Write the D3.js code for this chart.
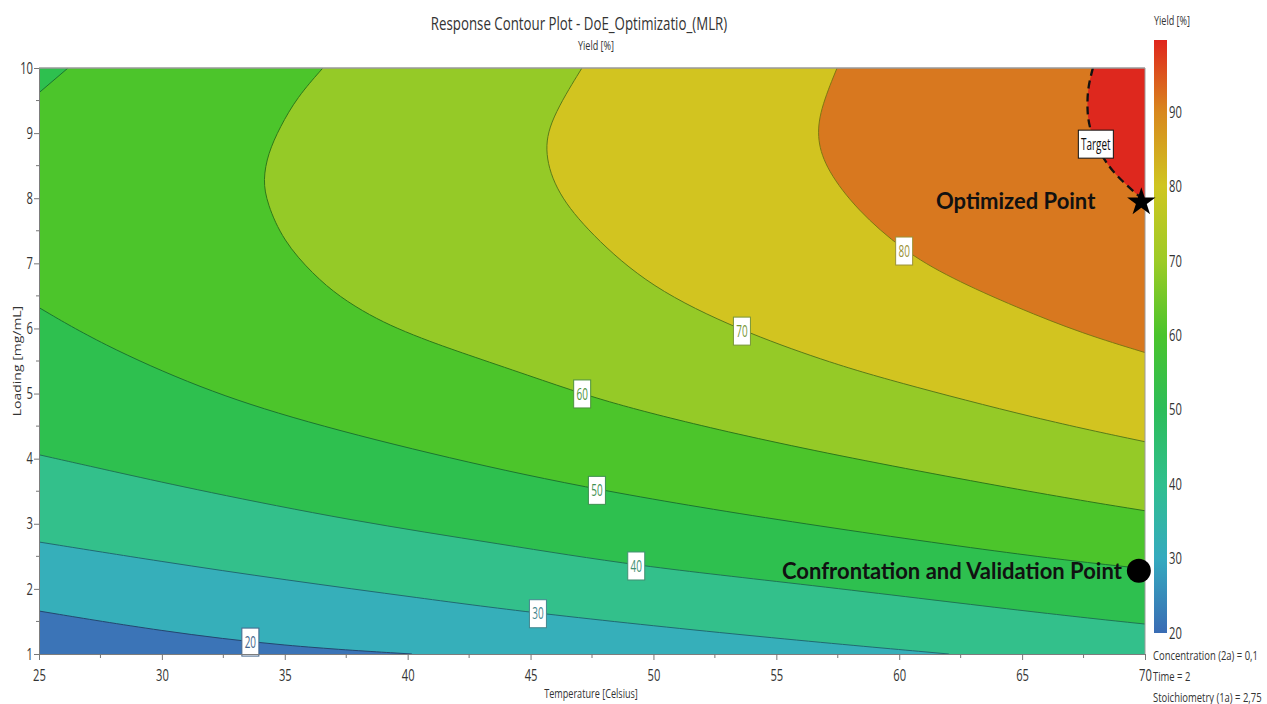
<!DOCTYPE html>
<html>
<head>
<meta charset="utf-8">
<script src="https://cdn.jsdelivr.net/npm/d3@7"></script>
<style>
  html, body { margin: 0; padding: 0; background: #fff; }
  svg { display: block; font-family: "Open Sans", "Noto Sans", sans-serif; }
</style>
</head>
<body>
<svg id="chart" width="1267" height="704"></svg>
<script>
// ---- Factor ranges and ticks ----
const temperatureDomain = [25, 70];          // Temperature [Celsius]
const loadingDomain = [1, 10];               // Loading [mg/mL]
const temperatureTicks = [25, 30, 35, 40, 45, 50, 55, 60, 65, 70];
const loadingTicks = [1, 2, 3, 4, 5, 6, 7, 8, 9, 10];
const yieldRange = [20, 99.7];               // colour bar extent, Yield [%]
const yieldTicks = [20, 30, 40, 50, 60, 70, 80, 90];

// ---- Yield isolines: [Temperature, Loading] pairs along each contour ----
const levels = [20, 30, 40, 50, 60, 70, 80, 90];
const contour20 = [[25, 1.66], [29.96, 1.35], [34.97, 1.12], [40.17, 1.0]];
const contour30 = [[25, 2.72], [29.96, 2.42], [34.97, 2.14], [40.5, 1.86], [45.26, 1.62], [54.62, 1.25], [62.02, 1.0]];
const contour40 = [[25, 4.06], [28.3, 3.78], [31.55, 3.51], [37.65, 3.05], [43.76, 2.69], [49.33, 2.35], [55.96, 2.08], [65.72, 1.63], [70, 1.46]];
const contour50 = [[25, 6.32], [27.48, 5.77], [31.55, 5.08], [35.62, 4.58], [41.72, 4.0], [47.74, 3.51], [55.96, 3.0], [65.72, 2.48], [70, 2.31]];
const contour50corner = [[25, 9.62], [26.18, 10]];
const contour60 = [[36.55, 10], [35.5, 9.55], [34.8, 9.09], [34.32, 8.69], [34.11, 8.28], [34.28, 7.92], [34.93, 7.35], [36.15, 6.83], [37.25, 6.48], [38.47, 6.2], [39.56, 6.0], [40.9, 5.8], [42.25, 5.62], [44.98, 5.27], [47.13, 4.99], [49.86, 4.69], [55.96, 4.15], [65.72, 3.46], [70, 3.2]];
const contour70 = [[47.09, 10], [45.79, 9.2], [45.55, 8.69], [46.07, 8.08], [47.42, 7.46], [49.86, 6.63], [53.52, 5.97], [56.9, 5.51], [59.62, 5.2], [65.72, 4.6], [70, 4.26]];
const contour80 = [[57.47, 10], [56.77, 9.35], [56.65, 8.89], [57.06, 8.43], [58.28, 7.82], [60.15, 7.2], [62.06, 6.78], [64.79, 6.32], [67.47, 5.92], [70, 5.63]];
const contour90 = [[67.88, 10], [67.68, 9.71], [67.64, 9.4], [67.72, 9.05], [68.37, 8.54], [69.1, 8.25], [69.79, 8.02], [70, 7.95]];
const contourLines = [[contour20], [contour30], [contour40], [contour50, contour50corner], [contour60], [contour70], [contour80], [contour90]];

// Contour labels and the temperature at which each sits on its line
const labelText = ["20", "30", "40", "50", "60", "70", "80", "Target"];
const labelTemperature = [33.6, 45.3, 49.3, 47.7, 47.1, 53.6, 60.2, 68.0];

// Marked settings [Temperature, Loading]
const optimizedPoint = [69.85, 7.94];
const validationPoint = [69.75, 2.28];
const factorSettings = ["Concentration (2a) = 0,1", "Time = 2", "Stoichiometry (1a) = 2,75"];

// ---- Palette ----
const bandColors = ["#3b74b7", "#36afba", "#33c08b", "#2ec04f", "#4cc52b", "#95ca27", "#d2c420", "#d8781f", "#de281e"];
const colorbarStopValues = [20, 30, 40, 50, 60, 70, 80, 90, 99.7];
const colorbarStopColors = ["#3a6cb4", "#35aabf", "#30bf8e", "#2dbd59", "#4ac42c", "#9dcb27", "#cfc621", "#d8881e", "#e0251d"];

// ---- Layout ----
const plot = { left: 39, right: 1145, top: 68, bottom: 654 };
const x = d3.scaleLinear(temperatureDomain, [plot.left, plot.right]);
const y = d3.scaleLinear(loadingDomain, [plot.bottom, plot.top]);
const cb = d3.scaleLinear(yieldRange, [633, 40]);

const svg = d3.select("#chart");
const defs = svg.append("defs");
defs.append("clipPath").attr("id", "plotClip").append("rect")
  .attr("x", plot.left).attr("y", plot.top)
  .attr("width", plot.right - plot.left).attr("height", plot.bottom - plot.top);

const line = d3.line().x(d => x(d[0])).y(d => y(d[1])).curve(d3.curveBasis);

// Close an isoline along the plot border on the side holding the top-right corner (higher yield)
const pw = plot.right - plot.left, ph = plot.bottom - plot.top, P = 2 * pw + 2 * ph;
const mod = v => ((v % P) + P) % P;
function perim([px, py]) {
  const e = 0.5;
  if (Math.abs(py - plot.top) < e) return px - plot.left;
  if (Math.abs(px - plot.right) < e) return pw + (py - plot.top);
  if (Math.abs(py - plot.bottom) < e) return pw + ph + (plot.right - px);
  return 2 * pw + ph + (plot.bottom - py);
}
const corners = [
  { p: 0, pt: [plot.left, plot.top] },
  { p: pw, pt: [plot.right, plot.top] },
  { p: pw + ph, pt: [plot.right, plot.bottom] },
  { p: 2 * pw + ph, pt: [plot.left, plot.bottom] }
];
function highSidePath(piece) {
  const pts = piece.map(d => [x(d[0]), y(d[1])]);
  const pS = perim(pts[0]), pE = perim(pts[pts.length - 1]);
  const cwSpan = mod(pS - pE);
  let list;
  if (mod(pw - pE) < cwSpan) {
    list = corners.map(c => ({ d: mod(c.p - pE), pt: c.pt })).filter(c => c.d > 0 && c.d < cwSpan);
  } else {
    const ccwSpan = mod(pE - pS);
    list = corners.map(c => ({ d: mod(pE - c.p), pt: c.pt })).filter(c => c.d > 0 && c.d < ccwSpan);
  }
  list.sort((a, b) => a.d - b.d);
  return line(piece) + list.map(c => `L${c.pt[0]},${c.pt[1]}`).join("") + "Z";
}

// ---- Filled bands ----
const fillG = svg.append("g").attr("clip-path", "url(#plotClip)");
fillG.append("rect")
  .attr("x", plot.left).attr("y", plot.top)
  .attr("width", pw).attr("height", ph)
  .attr("fill", bandColors[0]);
levels.forEach((lv, i) => {
  const pieces = contourLines[i];
  let g = fillG;
  pieces.slice(1).forEach((pc, k) => {
    const id = `above-${lv}-${k}`;
    defs.append("clipPath").attr("id", id).append("path").attr("d", highSidePath(pc));
    g = g.append("g").attr("clip-path", `url(#${id})`);
  });
  g.append("path").attr("d", highSidePath(pieces[0])).attr("fill", bandColors[i + 1]);
});

// ---- Isolines ----
const lineColor = i => d3.color(bandColors[i]).darker(1.4).formatHex();
const lineG = svg.append("g").attr("clip-path", "url(#plotClip)");
levels.forEach((lv, i) => {
  const isTarget = i === levels.length - 1;
  contourLines[i].forEach(pc => {
    lineG.append("path")
      .attr("d", line(pc))
      .attr("fill", "none")
      .attr("stroke", isTarget ? "#111" : lineColor(i))
      .attr("stroke-width", isTarget ? 2.3 : 1)
      .attr("stroke-dasharray", isTarget ? "8,5" : null);
  });
});

// ---- Helper for horizontally condensed text ----
function addText(parent, o) {
  const t = parent.append("text")
    .attr("transform", `translate(${o.x},${o.y})${o.rotate ? ` rotate(${o.rotate})` : ""} scale(${o.sx || 1},${o.sy || 1})`)
    .attr("text-anchor", o.anchor || "start")
    .attr("font-size", o.size)
    .attr("fill", o.fill || "#333")
    .text(o.text);
  if (o.dy) t.attr("dy", o.dy);
  if (o.weight) t.attr("font-weight", o.weight);
  if (o.family) t.attr("font-family", o.family);
  return t;
}

// ---- Contour labels ----
function loadingAt(piece, T) {
  let best = null;
  for (let k = 0; k < piece.length - 1; k++) {
    const a = piece[k], b = piece[k + 1];
    if ((a[0] - T) * (b[0] - T) <= 0 && a[0] !== b[0]) {
      const L = a[1] + (T - a[0]) / (b[0] - a[0]) * (b[1] - a[1]);
      if (best === null || L < best) best = L;
    }
  }
  return best;
}
const labelColor = i => d3.interpolateRgb(d3.color(bandColors[i]).darker(0.6).formatHex(), "#777")(0.3);
const labelG = svg.append("g");
levels.forEach((lv, i) => {
  const T = labelTemperature[i];
  const L = loadingAt(contourLines[i][0], T);
  const cx = x(T), cy = y(L);
  const isTarget = i === levels.length - 1;
  const w = isTarget ? 35 : 17, h = 28;
  labelG.append("rect")
    .attr("x", cx - w / 2).attr("y", cy - h / 2)
    .attr("width", w).attr("height", h)
    .attr("fill", "#fff")
    .attr("stroke", isTarget ? "#111" : labelColor(i))
    .attr("stroke-width", 1);
  addText(labelG, {
    x: cx, y: cy, dy: "0.36em", text: labelText[i], anchor: "middle",
    size: 16, sx: 0.62, fill: isTarget ? "#111" : labelColor(i)
  });
});

// ---- Axes ----
const axisFont = 16, squeeze = 0.7;
function condenseAxisText(g) {
  g.selectAll("text").each(function () {
    const t = d3.select(this);
    const tx = +t.attr("x") || 0, ty = +t.attr("y") || 0;
    t.attr("x", null).attr("y", null)
      .attr("transform", `translate(${tx},${ty}) scale(${squeeze},1)`);
  });
}
const yAxisG = svg.append("g")
  .attr("transform", `translate(${plot.left},0)`)
  .call(d3.axisLeft(y).tickValues(loadingTicks).tickFormat(d3.format("d")).tickSize(5).tickSizeOuter(0).tickPadding(1));
const xAxisG = svg.append("g")
  .attr("transform", `translate(0,${plot.bottom})`)
  .call(d3.axisBottom(x).tickValues(temperatureTicks).tickFormat(d3.format("d")).tickSize(6).tickSizeOuter(0).tickPadding(10));
[yAxisG, xAxisG].forEach(g => {
  g.attr("font-size", axisFont).attr("font-family", "\"Open Sans\", sans-serif");
  g.select(".domain").attr("stroke", "#7d7d7d");
  g.selectAll(".tick line").attr("stroke", "#777");
  g.selectAll(".tick text").attr("fill", "#333");
  condenseAxisText(g);
});
// minor ticks halfway between the major ones
yAxisG.selectAll(".minor").data(d3.pairs(loadingTicks, (a, b) => (a + b) / 2)).join("line")
  .attr("class", "minor").attr("x1", -3).attr("x2", 0)
  .attr("y1", d => y(d)).attr("y2", d => y(d)).attr("stroke", "#777");
xAxisG.selectAll(".minor").data(d3.pairs(temperatureTicks, (a, b) => (a + b) / 2)).join("line")
  .attr("class", "minor").attr("y1", 0).attr("y2", 4)
  .attr("x1", d => x(d)).attr("x2", d => x(d)).attr("stroke", "#777");

// plot frame (top and right)
svg.append("line").attr("x1", plot.left).attr("x2", plot.right).attr("y1", plot.top).attr("y2", plot.top)
  .attr("stroke", "#9a9a9a").attr("stroke-width", 1.5);
svg.append("line").attr("x1", plot.right).attr("x2", plot.right).attr("y1", plot.top).attr("y2", plot.bottom)
  .attr("stroke", "#9a9a9a").attr("stroke-width", 1);

// ---- Titles ----
addText(svg, { x: 579, y: 30, text: "Response Contour Plot - DoE_Optimizatio_(MLR)", anchor: "middle", size: 19, sx: 0.7, fill: "#333" });
addText(svg, { x: 596, y: 50, text: "Yield [%]", anchor: "middle", size: 13, sx: 0.7, fill: "#333" });
addText(svg, { x: 591, y: 698, text: "Temperature [Celsius]", anchor: "middle", size: 13, sx: 0.7, fill: "#333" });
addText(svg, { x: 21, y: 361, rotate: -90, text: "Loading [mg/mL]", anchor: "middle", size: 14, sx: 1, sy: 0.8, fill: "#333" });

// ---- Colour bar ----
const grad = defs.append("linearGradient").attr("id", "yieldGradient")
  .attr("x1", 0).attr("y1", 1).attr("x2", 0).attr("y2", 0);
colorbarStopValues.forEach((v, k) => {
  grad.append("stop")
    .attr("offset", (v - yieldRange[0]) / (yieldRange[1] - yieldRange[0]))
    .attr("stop-color", colorbarStopColors[k]);
});
svg.append("rect")
  .attr("x", 1154).attr("width", 13)
  .attr("y", cb(yieldRange[1])).attr("height", cb(yieldRange[0]) - cb(yieldRange[1]))
  .attr("fill", "url(#yieldGradient)");
yieldTicks.forEach(v => {
  addText(svg, { x: 1169, y: cb(v), dy: "0.35em", text: String(v), size: axisFont, sx: squeeze, fill: "#333" });
});
addText(svg, { x: 1172, y: 25, text: "Yield [%]", anchor: "middle", size: 13, sx: 0.7, fill: "#333" });

// ---- Fixed factor settings ----
factorSettings.forEach((s, k) => {
  addText(svg, { x: 1153, y: 660 + k * 21, text: s, size: 13.5, sx: 0.7, fill: "#333" });
});

// ---- Marked points ----
const markG = svg.append("g");
markG.append("path")
  .attr("d", d3.symbol(d3.symbolStar, 250)())
  .attr("transform", `translate(${x(optimizedPoint[0])},${y(optimizedPoint[1])})`)
  .attr("fill", "#000");
addText(markG, {
  x: x(optimizedPoint[0]) - 46, y: y(optimizedPoint[1]) + 7, text: "Optimized Point",
  anchor: "end", size: 22, weight: 700, family: "Lato, sans-serif", fill: "#111"
});
markG.append("circle")
  .attr("cx", x(validationPoint[0])).attr("cy", y(validationPoint[1]))
  .attr("r", 12).attr("fill", "#000");
addText(markG, {
  x: x(validationPoint[0]) - 17, y: y(validationPoint[1]) + 8, text: "Confrontation and Validation Point",
  anchor: "end", size: 22, weight: 700, family: "Lato, sans-serif", fill: "#111"
});
</script>
</body>
</html>
